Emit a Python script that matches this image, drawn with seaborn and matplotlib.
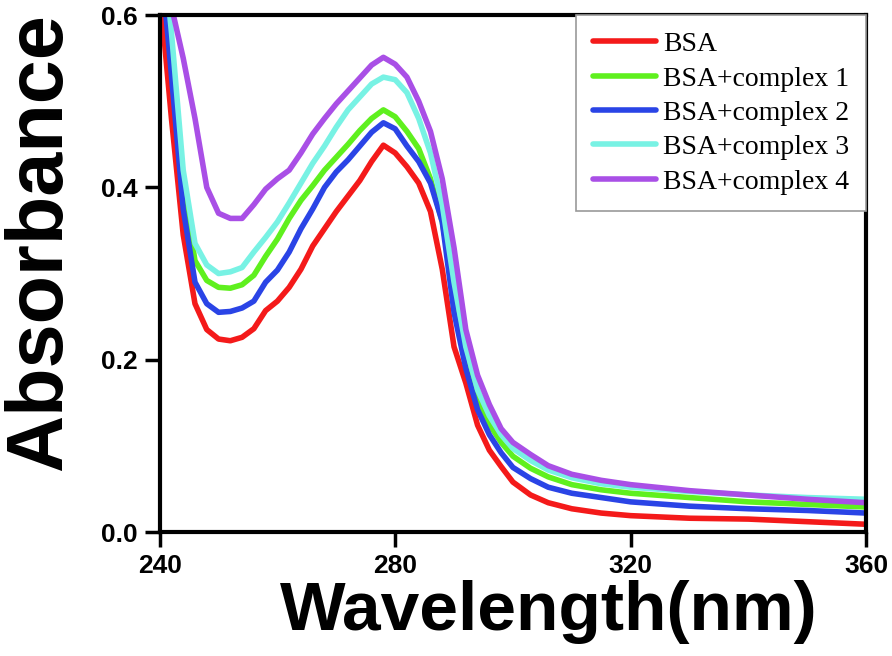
import numpy as np
import pandas as pd
import seaborn as sns
import matplotlib
matplotlib.use("Agg")
import matplotlib.pyplot as plt

# wavelength grid (nm) and absorbance
wavelength = [240, 242, 244, 246, 248, 250, 252, 254, 256, 258, 260, 262, 264, 266,
              268, 270, 272, 274, 276, 278, 280, 282, 284, 286, 288, 290, 292, 294,
              296, 298, 300, 303, 306, 310, 315, 320, 330, 340, 350, 360]

bsa = [0.63, 0.48, 0.345, 0.265, 0.235, 0.224, 0.222, 0.226, 0.236, 0.257, 0.268, 0.284,
       0.305, 0.332, 0.352, 0.372, 0.390, 0.408, 0.430, 0.449, 0.440, 0.424, 0.405, 0.372,
       0.305, 0.215, 0.173, 0.124, 0.095, 0.076, 0.058, 0.043, 0.034, 0.027, 0.022, 0.019,
       0.016, 0.015, 0.012, 0.009]
complex1 = [0.70, 0.55, 0.40, 0.315, 0.292, 0.284, 0.283, 0.287, 0.298, 0.320, 0.340, 0.364,
            0.385, 0.402, 0.420, 0.435, 0.450, 0.466, 0.480, 0.490, 0.482, 0.465, 0.445, 0.410,
            0.360, 0.280, 0.205, 0.155, 0.125, 0.104, 0.088, 0.074, 0.064, 0.055, 0.049, 0.045,
            0.040, 0.035, 0.032, 0.029]
complex2 = [0.68, 0.53, 0.375, 0.290, 0.265, 0.255, 0.256, 0.260, 0.268, 0.290, 0.304, 0.325,
            0.352, 0.375, 0.400, 0.418, 0.432, 0.448, 0.464, 0.475, 0.468, 0.448, 0.430, 0.405,
            0.360, 0.255, 0.190, 0.142, 0.113, 0.092, 0.075, 0.062, 0.052, 0.045, 0.040, 0.035,
            0.030, 0.027, 0.025, 0.022]
complex3 = [0.72, 0.58, 0.42, 0.335, 0.310, 0.300, 0.302, 0.307, 0.325, 0.342, 0.360, 0.382,
            0.405, 0.428, 0.448, 0.470, 0.490, 0.505, 0.520, 0.528, 0.525, 0.510, 0.480, 0.440,
            0.380, 0.290, 0.215, 0.165, 0.135, 0.113, 0.097, 0.083, 0.072, 0.063, 0.056, 0.052,
            0.047, 0.043, 0.040, 0.038]
complex4 = [0.80, 0.61, 0.55, 0.48, 0.40, 0.370, 0.364, 0.364, 0.380, 0.398, 0.410, 0.420,
            0.440, 0.462, 0.480, 0.497, 0.512, 0.527, 0.542, 0.551, 0.543, 0.528, 0.500, 0.465,
            0.410, 0.330, 0.235, 0.182, 0.148, 0.120, 0.104, 0.090, 0.077, 0.067, 0.060, 0.055,
            0.048, 0.043, 0.038, 0.034]

labels = ["BSA", "BSA+complex 1", "BSA+complex 2", "BSA+complex 3", "BSA+complex 4"]
colors = ["#f41a1a", "#5ff01e", "#2a44e6", "#78f2e4", "#a94fe6"]

frames = []
for lab, vals in zip(labels, [bsa, complex1, complex2, complex3, complex4]):
    frames.append(pd.DataFrame({"wavelength": wavelength, "absorbance": vals, "sample": lab}))
df = pd.concat(frames, ignore_index=True)

sns.set_style("ticks")
plt.rcParams["font.family"] = ["Liberation Sans", "DejaVu Sans"]
plt.rcParams["text.color"] = "black"
plt.rcParams["xtick.color"] = "black"
plt.rcParams["ytick.color"] = "black"
plt.rcParams["axes.labelcolor"] = "black"

fig = plt.figure(figsize=(8.92, 6.56), dpi=100)
ax = fig.add_axes([0.179, 0.189, 0.792, 0.788])

sns.lineplot(data=df, x="wavelength", y="absorbance", hue="sample",
             palette=dict(zip(labels, colors)), linewidth=4, ax=ax, legend=False)

ax.set_xlim(240, 360)
ax.set_ylim(0, 0.6)
ax.set_xticks([240, 280, 320, 360])
ax.set_yticks([0.0, 0.2, 0.4, 0.6])
ax.set_yticklabels(["0.0", "0.2", "0.4", "0.6"])

for side in ["left", "bottom", "top", "right"]:
    ax.spines[side].set_visible(True)
    ax.spines[side].set_linewidth(3)
    ax.spines[side].set_color("black")
ax.tick_params(axis="both", direction="out", length=11, width=2.5, pad=5,
               labelsize=19, top=False, right=False, colors="black")
for t in ax.get_xticklabels() + ax.get_yticklabels():
    t.set_fontweight("bold")

ax.set_xlabel("Wavelength(nm)", fontsize=50, fontweight="bold", color="black")
ax.set_ylabel("Absorbance", fontsize=57, fontweight="bold", color="black")
ax.xaxis.set_label_coords(0.551, -0.093)
ax.yaxis.set_label_coords(-0.115, 0.56)

handles = [plt.Line2D([], [], color=c, linewidth=4) for c in colors]
leg = ax.legend(handles, labels, loc="upper right", borderaxespad=0,
                prop={"family": "Liberation Serif", "size": 20},
                handlelength=2.3, handletextpad=0.25, labelspacing=0.32,
                borderpad=0.6, fancybox=False, framealpha=1)
leg.get_frame().set_edgecolor("#999999")
leg.get_frame().set_linewidth(1.2)
for t in leg.get_texts():
    t.set_color("black")

fig.savefig("out.png", dpi=100)
